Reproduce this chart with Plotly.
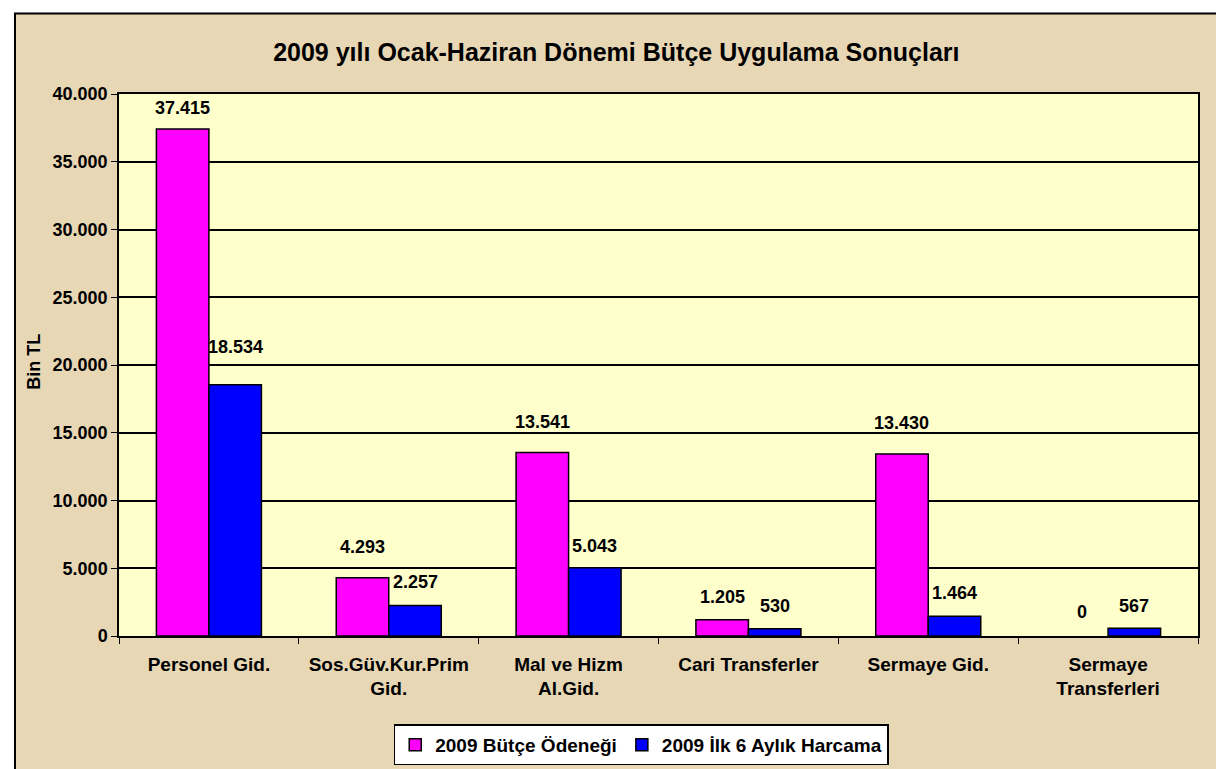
import plotly.graph_objects as go

categories = ["Personel Gid.", "Sos.Güv.Kur.Prim<br>Gid.", "Mal ve Hizm<br>Al.Gid.",
              "Cari Transferler", "Sermaye Gid.", "Sermaye<br>Transferleri"]
butce_odenegi = [37415, 4293, 13541, 1205, 13430, 0]
ilk6_harcama = [18534, 2257, 5043, 530, 1464, 567]
series_names = ["2009 Bütçe Ödeneği", "2009 İlk 6 Aylık Harcama"]
y_ticks = [0, 5000, 10000, 15000, 20000, 25000, 30000, 35000, 40000]

# style: label offsets (px above bar top) mimicking the manually placed labels
shift_a = [21, 31, 31, 23, 31, 24]
shift_b = [38, 23, 22, 23, 23, 22]

FONT = "Liberation Sans, Arial, sans-serif"
BG = "#E7D7B5"
BARGAP = 0.416

def fmt(v):
    return f"{v:,}".replace(",", ".")

fig = go.Figure()
fig.add_trace(go.Bar(x=categories, y=butce_odenegi, name=series_names[0],
                     marker=dict(color="#FF00FF",
                                 line=dict(color="black",
                                           width=[1.5 if v > 0 else 0 for v in butce_odenegi]))))
fig.add_trace(go.Bar(x=categories, y=ilk6_harcama, name=series_names[1],
                     marker=dict(color="#0000FF",
                                 line=dict(color="black",
                                           width=[1.5 if v > 0 else 0 for v in ilk6_harcama]))))

half = (1 - BARGAP) / 4
annotations = []
for i in range(len(categories)):
    for vals, shifts, off in ((butce_odenegi, shift_a, -half), (ilk6_harcama, shift_b, half)):
        annotations.append(dict(x=i + off, y=vals[i], xref="x", yref="y",
                                text="<b>" + fmt(vals[i]) + "</b>",
                                showarrow=False, yanchor="middle", yshift=shifts[i],
                                font=dict(family=FONT, size=18, color="black")))
annotations.append(dict(x=-0.0788, y=0.506, xref="paper", yref="paper", text="<b>Bin TL</b>",
                        textangle=-90, showarrow=False, xanchor="center", yanchor="middle",
                        font=dict(family=FONT, size=18, color="black")))

fig.update_layout(
    width=1224, height=769,
    margin=dict(l=111, r=34, t=86, b=138),
    paper_bgcolor="white",
    plot_bgcolor="#FFFFCC",
    separators=",.",
    barmode="group", bargap=BARGAP, bargroupgap=0,
    title=dict(text="<b>2009 yılı Ocak-Haziran Dönemi Bütçe Uygulama Sonuçları</b>",
               x=0.497, xanchor="center", y=1 - 44 / 769, yanchor="middle",
               font=dict(family=FONT, size=25, color="black")),
    font=dict(family=FONT, color="black"),
    showlegend=True,
    legend=dict(orientation="h", x=0.484, xanchor="center", y=-0.163, yanchor="top",
                bgcolor="white", bordercolor="black", borderwidth=1.5,
                font=dict(family=FONT, size=19, color="black", weight="bold"),
                itemwidth=30, tracegroupgap=0),
    annotations=annotations,
    shapes=[
        dict(type="rect", xref="paper", yref="paper", x0=-0.0964, x1=1.2, y0=-0.2495, y1=1.1486,
             fillcolor=BG, line=dict(color="black", width=2), layer="below"),
        dict(type="rect", xref="paper", yref="paper", x0=0, x1=1, y0=0, y1=1,
             fillcolor="#FFFFCC", line=dict(width=0), layer="below"),
    ],
)
fig.update_yaxes(range=[0, 40000], tickvals=y_ticks, tickformat=",d",
                 showgrid=True, gridcolor="black", gridwidth=1.5,
                 showline=True, linecolor="black", linewidth=1.5, mirror=True,
                 ticks="outside", ticklen=6, tickcolor="black",
                 tickfont=dict(family=FONT, size=18, color="black", weight="bold"),
                 zeroline=False)
fig.update_xaxes(showline=True, linecolor="black", linewidth=1.5, mirror=True,
                 ticks="outside", ticklen=6, tickcolor="black", tickson="boundaries",
                 ticklabelstandoff=10,
                 tickfont=dict(family=FONT, size=19, color="black", weight="bold"),
                 showgrid=False)

fig.write_html("out.html")
